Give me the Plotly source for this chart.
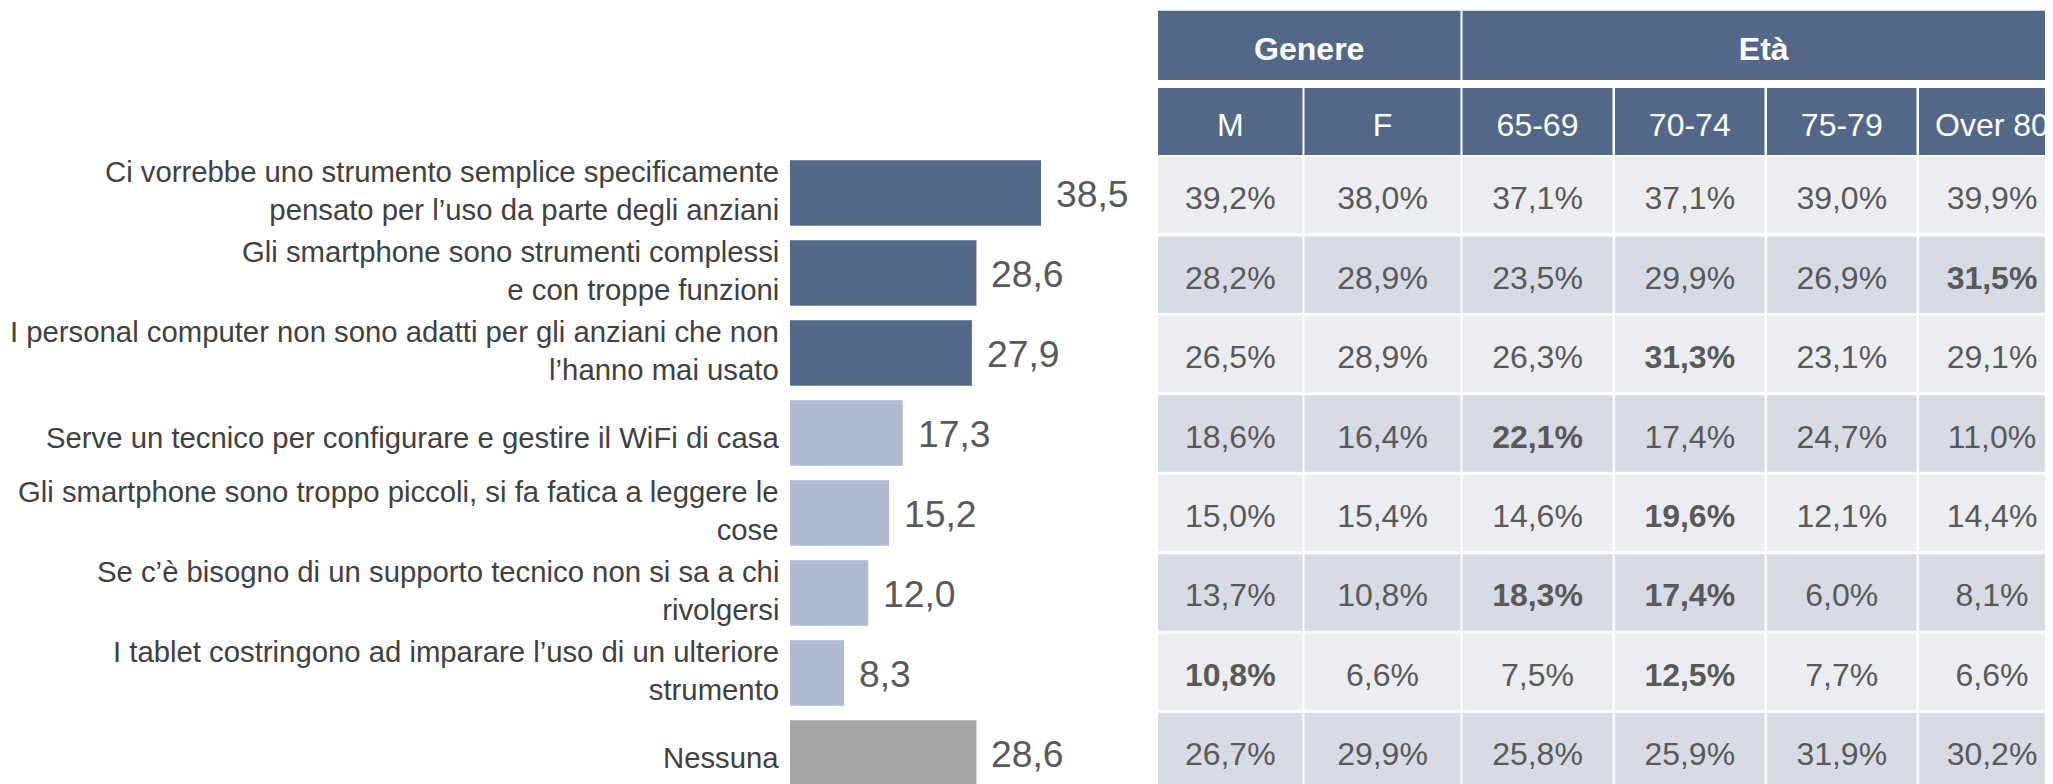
import plotly.graph_objects as go

# ---------------- data ----------------
categories = [
    "Ci vorrebbe uno strumento semplice specificamente<br>pensato per l’uso da parte degli anziani",
    "Gli smartphone sono strumenti complessi<br>e con troppe funzioni",
    "I personal computer non sono adatti per gli anziani che non<br>l’hanno mai usato",
    "Serve un tecnico per configurare e gestire il WiFi di casa",
    "Gli smartphone sono troppo piccoli, si fa fatica a leggere le<br>cose",
    "Se c’è bisogno di un supporto tecnico non si sa a chi<br>rivolgersi",
    "I tablet costringono ad imparare l’uso di un ulteriore<br>strumento",
    "Nessuna",
]
totals = [38.5, 28.6, 27.9, 17.3, 15.2, 12.0, 8.3, 28.6]
groups = ["top", "top", "top", "other", "other", "other", "other", "none"]

header_groups = ["Genere", "Età"]
header_group_span = [2, 4]
column_labels = ["M", "F", "65-69", "70-74", "75-79", "Over 80"]
col_M = [39.2, 28.2, 26.5, 18.6, 15.0, 13.7, 10.8, 26.7]
col_F = [38.0, 28.9, 28.9, 16.4, 15.4, 10.8, 6.6, 29.9]
col_65_69 = [37.1, 23.5, 26.3, 22.1, 14.6, 18.3, 7.5, 25.8]
col_70_74 = [37.1, 29.9, 31.3, 17.4, 19.6, 17.4, 12.5, 25.9]
col_75_79 = [39.0, 26.9, 23.1, 24.7, 12.1, 6.0, 7.7, 31.9]
col_over80 = [39.9, 31.5, 29.1, 11.0, 14.4, 8.1, 6.6, 30.2]
table_columns = [col_M, col_F, col_65_69, col_70_74, col_75_79, col_over80]
# highlighted (bold) cells: (row index, column index)
bold_cells = [(1, 5), (2, 3), (3, 2), (4, 3), (5, 2), (5, 3), (6, 0), (6, 3)]

# ---------------- styles / layout ----------------
W, H = 2053, 784
OFF = 8  # page body margin: figure starts 8px from the window corner
FONT = "Liberation Sans, Arial, sans-serif"
bar_colors = {"top": "#536889", "other": "#AEBBD0", "none": "#A6A6A6"}
header_fill = "#536889"
row_fills = ["#EBEDF1", "#D6DBE4"]
text_dark = "#404040"
text_grey = "#595959"

# bar panel geometry (window pixels)
bar_x0, bar_x1 = 790, 1150
px_per_unit = 6.52
row_pitch = 80
first_row_center = 193

# table geometry (window pixels)
col_left = [1158, 1304.5, 1462.5, 1615, 1767, 1919]
col_right = [1302.5, 1460.5, 1612.5, 1764.5, 1916.5, 2065]
head1 = (10.7, 80)
head2 = (88, 155)
data_top0 = 157
data_pitch = 79.43
data_h = 76.5


def fmt(v, pct=False):
    s = f"{v:.1f}".replace(".", ",")
    return s + "%" if pct else s


fig = go.Figure()

# ---------------- bars ----------------
fig.add_trace(go.Bar(
    x=totals, y=categories, orientation="h",
    marker=dict(color=[bar_colors[g] for g in groups], line=dict(width=0)),
    width=0.82, hoverinfo="skip", xaxis="x", yaxis="y",
))

n = len(categories)
y_top_idx = -(first_row_center - OFF) / row_pitch
y_bot_idx = y_top_idx + H / row_pitch

for i, (cat, v) in enumerate(zip(categories, totals)):
    multi = "<br>" in cat
    fig.add_annotation(
        x=0, y=cat, xref="x", yref="y", text=cat, showarrow=False,
        xanchor="right", align="right", xshift=-9, yshift=3 if multi else -4,
        font=dict(family=FONT, size=29.3, color=text_dark),
    )
    fig.add_annotation(
        x=v, y=cat, xref="x", yref="y", text=fmt(v), showarrow=False,
        xanchor="left", xshift=13, yshift=-1,
        font=dict(family=FONT, size=37.3, color=text_grey),
    )

# ---------------- table ----------------
shapes = []
c = 0
for g, span in zip(header_groups, header_group_span):
    x0, x1 = col_left[c], col_right[c + span - 1]
    shapes.append(dict(type="rect", xref="x2", yref="y2", x0=x0, x1=x1,
                       y0=head1[0], y1=head1[1], fillcolor=header_fill,
                       line=dict(width=0), layer="below"))
    c += span
for j in range(len(column_labels)):
    shapes.append(dict(type="rect", xref="x2", yref="y2", x0=col_left[j], x1=col_right[j],
                       y0=head2[0], y1=head2[1], fillcolor=header_fill,
                       line=dict(width=0), layer="below"))
    for i in range(n):
        t = data_top0 + i * data_pitch
        shapes.append(dict(type="rect", xref="x2", yref="y2", x0=col_left[j], x1=col_right[j],
                           y0=t, y1=t + data_h, fillcolor=row_fills[i % 2],
                           line=dict(width=0), layer="below"))
fig.update_layout(shapes=shapes)

hx, hy, ht = [], [], []
c = 0
for g, span in zip(header_groups, header_group_span):
    hx.append((col_left[c] + col_right[c + span - 1]) / 2)
    hy.append(sum(head1) / 2 + 7)
    ht.append(f"<b>{g}</b>")
    c += span
for j, lab in enumerate(column_labels):
    hx.append((col_left[j] + col_right[j]) / 2)
    hy.append(sum(head2) / 2 + 6)
    ht.append(lab)
fig.add_trace(go.Scatter(
    x=hx, y=hy, text=ht, mode="text", textposition="middle center",
    textfont=dict(family=FONT, size=32, color="white"),
    hoverinfo="skip", xaxis="x2", yaxis="y2", cliponaxis=False,
))

tx, ty, tt = [], [], []
for j, col in enumerate(table_columns):
    for i, v in enumerate(col):
        tx.append((col_left[j] + col_right[j]) / 2)
        ty.append(data_top0 + i * data_pitch + data_h / 2 + 6)
        s = fmt(v, pct=True)
        tt.append(f"<b>{s}</b>" if (i, j) in bold_cells else s)
fig.add_trace(go.Scatter(
    x=tx, y=ty, text=tt, mode="text", textposition="middle center",
    textfont=dict(family=FONT, size=32, color=text_grey),
    hoverinfo="skip", xaxis="x2", yaxis="y2", cliponaxis=False,
))

fig.update_layout(
    width=W, height=H,
    margin=dict(l=0, r=0, t=0, b=0),
    paper_bgcolor="white", plot_bgcolor="rgba(0,0,0,0)",
    showlegend=False,
    xaxis=dict(domain=[(bar_x0 - OFF) / W, (bar_x1 - OFF) / W],
               range=[0, (bar_x1 - bar_x0) / px_per_unit],
               visible=False, fixedrange=True),
    yaxis=dict(domain=[0, 1], range=[y_bot_idx, y_top_idx], type="category",
               visible=False, fixedrange=True, categoryorder="array",
               categoryarray=categories),
    xaxis2=dict(domain=[0, 1], range=[OFF, W + OFF],
                visible=False, fixedrange=True, anchor="y2"),
    yaxis2=dict(domain=[0, 1], range=[H + OFF, OFF], visible=False, fixedrange=True,
                anchor="x2"),
)

fig.write_html("out.html")
